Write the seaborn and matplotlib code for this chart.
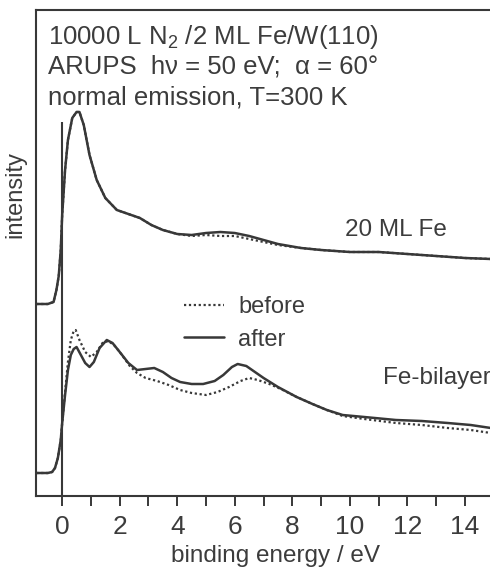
import numpy as np
import pandas as pd
import matplotlib
matplotlib.use("Agg")
import matplotlib.pyplot as plt
from matplotlib.ticker import FixedLocator, FixedFormatter
import seaborn as sns

# 20 ML Fe, after N2 exposure (binding energy in eV, intensity in arb. units)
e_fe20 = [-0.9, -0.5, -0.3, -0.2, -0.12, -0.05, 0.0, 0.1, 0.2, 0.35, 0.5, 0.6, 0.75, 0.95,
          1.2, 1.5, 1.9, 2.3, 2.7, 3.1, 3.5, 4.0, 4.5, 5.0, 5.5, 6.0, 6.5, 7.0, 7.5, 8.3,
          9.0, 10.0, 11.0, 12.0, 13.0, 14.0, 14.9]
fe20_after = [192, 192, 194, 206, 220, 246, 281, 326, 356, 378, 384, 384, 371, 341,
              316, 298, 286, 282, 278, 271, 266, 262, 261, 263, 264, 263, 260, 256, 252, 248,
              246, 244, 244, 242, 240, 238, 237]
fe20_before = [192, 192, 194, 206, 220, 246, 281, 326, 356, 378, 384, 384, 371, 341,
               316, 298, 286, 282, 278, 271, 266, 262, 260, 261, 260, 260, 257, 254, 251, 248,
               246, 244, 244, 242, 240, 238, 237]

# Fe bilayer
e_bi_after = [-0.9, -0.5, -0.35, -0.25, -0.15, -0.05, 0.0, 0.1, 0.2, 0.3, 0.4, 0.5, 0.65,
              0.8, 0.95, 1.1, 1.3, 1.55, 1.75, 2.0, 2.3, 2.6, 2.9, 3.2, 3.5, 3.8, 4.1,
              4.5, 4.9, 5.3, 5.6, 5.9, 6.1, 6.4, 6.7, 7.0, 7.5, 8.15, 8.7, 9.2, 9.75,
              10.5, 11.6, 12.5, 13.4, 14.2, 14.9]
bi_after = [23, 23, 24, 28, 38, 56, 73, 101, 126, 141, 147, 149, 141,
            133, 129, 134, 148, 156, 153, 144, 133, 126, 127, 128, 124, 118, 114,
            112, 112, 115, 121, 129, 132, 130, 124, 118, 109, 99, 92, 86, 81,
            79, 76, 75, 73, 71, 68]
e_bi_before = [-0.9, -0.5, -0.35, -0.25, -0.15, -0.05, 0.0, 0.1, 0.2, 0.3, 0.4, 0.47, 0.6,
               0.8, 1.0, 1.2, 1.4, 1.6, 1.8, 2.0, 2.35, 2.6, 2.9, 3.3, 3.7, 4.1,
               4.5, 5.0, 5.4, 5.8, 6.2, 6.5, 6.8, 7.2, 7.6, 8.15, 8.7, 9.2, 9.75,
               10.5, 11.6, 12.5, 13.4, 14.2, 14.9]
bi_before = [23, 23, 24, 28, 38, 56, 73, 104, 134, 156, 165, 166, 156,
             144, 139, 144, 153, 155, 151, 144, 130, 123, 118, 115, 111, 106,
             103, 101, 104, 109, 115, 118, 116, 112, 107, 99, 92, 86, 80,
             77, 73, 71, 68, 66, 63]

xticks = list(range(0, 15))
xticklabels = [str(t) if t % 2 == 0 else "" for t in xticks]

title_lines = ["10000 L N$_2$ /2 ML Fe/W(110)",
               "ARUPS  hν = 50 eV;  α = 60°",
               "normal emission, T=300 K"]

sns.set_theme(style="white")
plt.rcParams["font.family"] = ["Liberation Sans", "DejaVu Sans"]
plt.rcParams["mathtext.fontset"] = "custom"
plt.rcParams["mathtext.rm"] = "Liberation Sans"
plt.rcParams["mathtext.it"] = "Liberation Sans"

ink = "#383838"
txt = "#3c3c3c"

fig = plt.figure(figsize=(4.9, 5.68), dpi=100)
ax = fig.add_axes([36 / 490, 1 - 496 / 568, 1 - 36 / 490, (496 - 10) / 568])

sns.lineplot(x=e_fe20, y=fe20_before, ax=ax, color=ink, lw=1.6,
             linestyle=(0, (1, 1.2)), sort=False, estimator=None)
sns.lineplot(x=e_fe20, y=fe20_after, ax=ax, color=ink, lw=1.8, sort=False, estimator=None)
sns.lineplot(x=e_bi_before, y=bi_before, ax=ax, color=ink, lw=1.6,
             linestyle=(0, (1, 1.2)), sort=False, estimator=None, label="before")
sns.lineplot(x=e_bi_after, y=bi_after, ax=ax, color=ink, lw=1.8, sort=False,
             estimator=None, label="after")

# Fermi level marker
ax.vlines(0, 0, 374, color=ink, lw=1.5)

ax.set_xlim(-0.91, 14.87)
ax.set_ylim(0, 486)
ax.xaxis.set_major_locator(FixedLocator(xticks))
ax.xaxis.set_major_formatter(FixedFormatter(xticklabels))
ax.set_yticks([])
ax.tick_params(axis="x", direction="out", length=7.5, width=1.4, color=ink,
               labelsize=19, labelcolor=txt, pad=6, bottom=True)
for side in ["left", "top", "bottom"]:
    ax.spines[side].set_color(ink)
    ax.spines[side].set_linewidth(1.5)
ax.spines["right"].set_visible(False)

ax.set_xlabel("binding energy / eV", fontsize=17.5, color=txt)
ax.xaxis.set_label_coords((275 - 36) / 454, -0.1)
ax.set_ylabel("")
fig.text(15 / 490, 1 - 195 / 568, "intensity", rotation=90, ha="center", va="center",
         fontsize=17, color=txt)

for i, line in enumerate(title_lines):
    fig.text(48 / 490, 1 - (44 + 30 * i) / 568, line, fontsize=18.5, color=txt,
             va="baseline", ha="left")

ax.text(9.83, 266, "20 ML Fe", fontsize=17.5, color=txt, va="center", ha="left")
ax.text(11.15, 118, "Fe-bilayer", fontsize=17.5, color=txt, va="center", ha="left")

handles, labels = ax.get_legend_handles_labels()
ax.legend(handles, labels, frameon=False, fontsize=17, loc="upper left",
          bbox_to_anchor=(184 / 490, 1 - 296 / 568), bbox_transform=fig.transFigure,
          handlelength=1.7, handletextpad=0.6, labelspacing=0.45, borderpad=0,
          borderaxespad=0, labelcolor=txt)

fig.savefig("out.png", dpi=100, facecolor="white")
